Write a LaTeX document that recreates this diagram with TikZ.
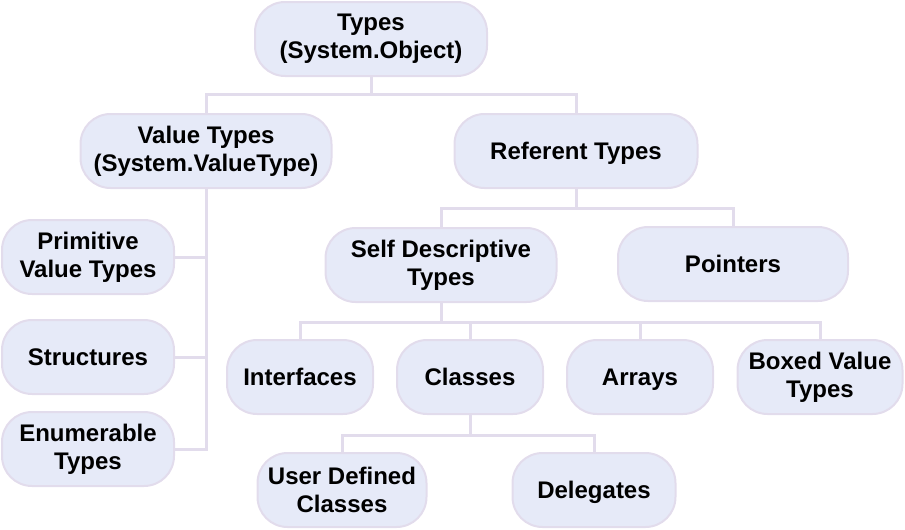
\documentclass[tikz,border=0pt]{standalone}
\usepackage{fontspec}
\setmainfont{Liberation Sans}
\definecolor{boxfill}{HTML}{E6EAF8}
\definecolor{boxline}{HTML}{E2DCEC}
\begin{document}
\begin{tikzpicture}[x=1pt, y=-1pt,
    typebox/.style={draw=boxline, fill=boxfill, line width=2pt, rounded corners=30pt, minimum height=74pt, inner sep=0pt, align=center, font=\fontsize{24}{28}\selectfont\bfseries},
    oneline/.style={typebox, text height=19pt, text depth=2pt},
    link/.style={draw=boxline, line width=3pt}]
    \useasboundingbox (0,0) rectangle (905,530);
    % connectors first, boxes on top
    \coordinate (bus1) at (371,94);
    \coordinate (bus2) at (576,208);
    \coordinate (bus3) at (441,322);
    \coordinate (bus4) at (470,435);
    \node[typebox, minimum width=232pt] (types) at (371,39) {Types\\(System.Object)};
    \node[typebox, minimum width=251pt] (value) at (206,151) {Value Types\\(System.ValueType)};
    \node[oneline, minimum width=243pt] (referent) at (576,151) {Referent Types};
    \node[typebox, minimum width=172pt] (prim) at (88,257) {Primitive\\Value Types};
    \node[oneline, minimum width=172pt] (struct) at (88,357) {Structures};
    \node[typebox, minimum width=172pt] (enum) at (88,449) {Enumerable\\Types};
    \node[typebox, minimum width=231pt] (self) at (441,265) {Self Descriptive\\Types};
    \node[oneline, minimum width=230pt] (pointers) at (733,264) {Pointers};
    \node[oneline, minimum width=146pt] (interfaces) at (300,377) {Interfaces};
    \node[oneline, minimum width=146pt] (classes) at (470,377) {Classes};
    \node[oneline, minimum width=146pt] (arrays) at (640,377) {Arrays};
    \node[typebox, minimum width=165pt] (boxed) at (820,377) {Boxed Value\\Types};
    \node[typebox, minimum width=169pt] (user) at (342,490) {User Defined\\Classes};
    \node[oneline, minimum width=163pt] (delegates) at (594,490) {Delegates};
    \begin{scope}[on background layer/.try]
    \draw[link] (types.south) -- (bus1);
    \foreach \kid in {value,referent} \draw[link] (bus1) -| (\kid.north);
    \foreach \kid in {prim,struct,enum} \draw[link] (value.south) |- (\kid.east);
    \draw[link] (referent.south) -- (bus2);
    \foreach \kid in {self,pointers} \draw[link] (bus2) -| (\kid.north);
    \draw[link] (self.south) -- (bus3);
    \foreach \kid in {interfaces,classes,arrays,boxed} \draw[link] (bus3) -| (\kid.north);
    \draw[link] (classes.south) -- (bus4);
    \foreach \kid in {user,delegates} \draw[link] (bus4) -| (\kid.north);
    \end{scope}
\end{tikzpicture}
\end{document}
